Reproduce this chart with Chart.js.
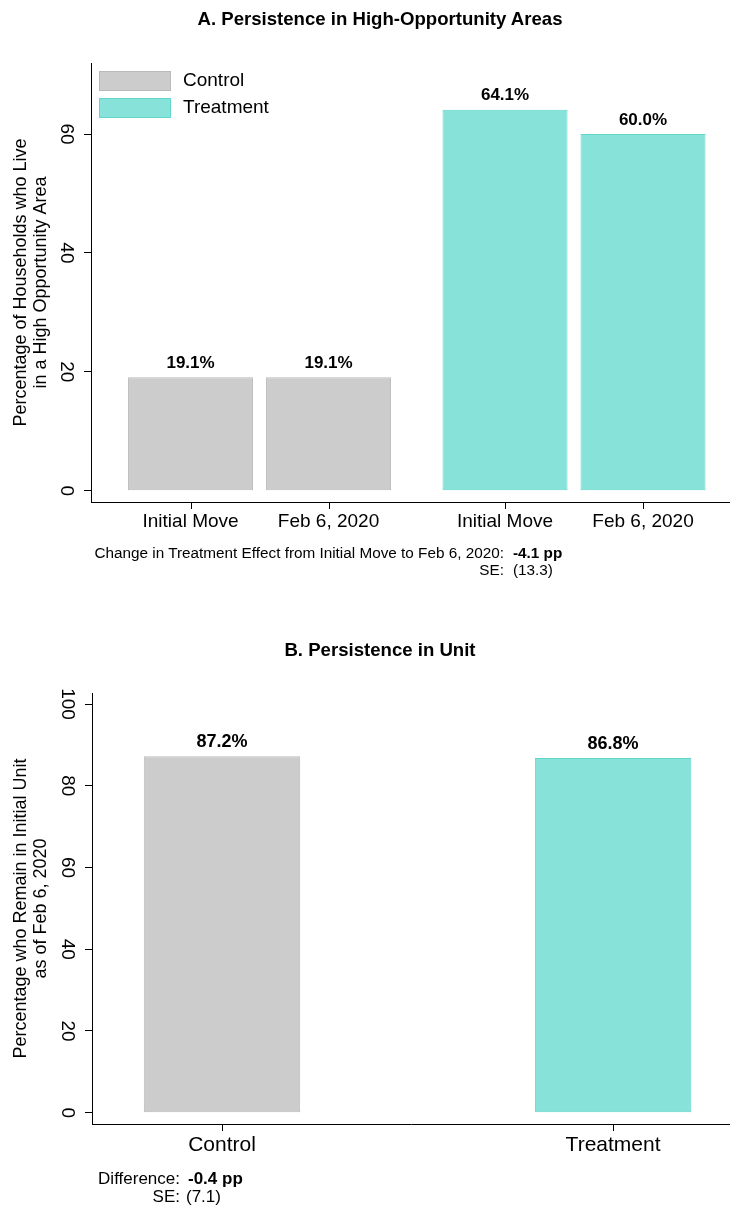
<!DOCTYPE html>
<html>
<head>
<meta charset="utf-8">
<script src="https://cdn.jsdelivr.net/npm/chart.js@4.4.1/dist/chart.umd.min.js"></script>
<style>
  html, body { margin: 0; padding: 0; background: #fff; }
  body { width: 730px; height: 1210px; position: relative; overflow: hidden;
         font-family: "Liberation Sans", Arial, Helvetica, sans-serif; color: #000; }
  .title { position: absolute; left: 80px; width: 600px; text-align: center;
           font-weight: bold; font-size: 18.6px; line-height: 20px; }
  .note { position: absolute; white-space: nowrap; }
  .noteA { font-size: 15.3px; line-height: 17px; }
  .noteB { font-size: 17px; line-height: 20px; }
  canvas { position: absolute; left: 0; }
</style>
</head>
<body>
<canvas id="chartA" width="730" height="600" style="top:0"></canvas>
<canvas id="chartB" width="730" height="610" style="top:600px"></canvas>

<div class="title" style="top:9px">A. Persistence in High-Opportunity Areas</div>
<div class="title" style="top:640px">B. Persistence in Unit</div>

<div class="note noteA" id="noteA1" style="top:544px; right:226px; text-align:right"></div>
<div class="note noteA" id="noteA2" style="top:544px; left:513px; font-weight:bold"></div>
<div class="note noteA" style="top:561px; right:226px; text-align:right">SE:</div>
<div class="note noteA" id="noteA3" style="top:561px; left:513px"></div>

<div class="note noteB" style="top:1169px; right:550px; text-align:right">Difference:</div>
<div class="note noteB" id="noteB1" style="top:1169px; left:188px; font-weight:bold"></div>
<div class="note noteB" style="top:1187px; right:550px; text-align:right">SE:</div>
<div class="note noteB" id="noteB2" style="top:1187px; left:186px"></div>

<script>
  // Panel A: share living in a high-opportunity area
  const groups = ["Control", "Treatment"];
  const periods = ["Initial Move", "Feb 6, 2020"];
  const initialMoveShare = [19.1, 64.1];
  const feb2020Share = [19.1, 60.0];
  const yTicksA = [0, 20, 40, 60];
  const effectChange = -4.1;
  const effectChangeSE = 13.3;

  // Panel B: share remaining in initial unit
  const unitGroups = ["Control", "Treatment"];
  const remainShare = [87.2, 86.8];
  const yTicksB = [0, 20, 40, 60, 80, 100];
  const unitDiff = -0.4;
  const unitDiffSE = 7.1;

  const FONT = '"Liberation Sans", Arial, Helvetica, sans-serif';
  const groupFill = ["#cccccc", "#87e3d9"];
  const groupBorder = ["#bababa", "#62d6c8"];

  Chart.defaults.font.family = FONT;
  Chart.defaults.color = "#000";

  document.getElementById("noteA1").textContent = "Change in Treatment Effect from Initial Move to Feb 6, 2020:";
  document.getElementById("noteA2").textContent = effectChange.toFixed(1) + " pp";
  document.getElementById("noteA3").textContent = "(" + effectChangeSE.toFixed(1) + ")";
  document.getElementById("noteB1").textContent = unitDiff.toFixed(1) + " pp";
  document.getElementById("noteB2").textContent = "(" + unitDiffSE.toFixed(1) + ")";

  // percent labels above each bar
  const valueLabels = {
    id: "valueLabels",
    afterDatasetsDraw(chart, args, opts) {
      const ctx = chart.ctx;
      ctx.save();
      ctx.font = "bold " + opts.size + "px " + FONT;
      ctx.fillStyle = "#000";
      ctx.textAlign = "center";
      ctx.textBaseline = "middle";
      chart.data.datasets.forEach((ds, i) => {
        chart.getDatasetMeta(i).data.forEach((bar, j) => {
          ctx.fillText(ds.data[j].y.toFixed(1) + "%", bar.x, bar.y - 14);
        });
      });
      ctx.restore();
    }
  };

  // tick marks and period names under each bar of panel A
  const periodTicks = {
    id: "periodTicks",
    afterDraw(chart) {
      const { ctx, chartArea } = chart;
      ctx.save();
      ctx.strokeStyle = "#000";
      ctx.lineWidth = 1;
      ctx.font = "19px " + FONT;
      ctx.fillStyle = "#000";
      ctx.textAlign = "center";
      ctx.textBaseline = "middle";
      chart.data.datasets.forEach((ds, i) => {
        chart.getDatasetMeta(i).data.forEach((bar) => {
          const x = Math.round(bar.x) + 0.5;
          ctx.beginPath();
          ctx.moveTo(x, chartArea.bottom);
          ctx.lineTo(x, chartArea.bottom + 7);
          ctx.stroke();
          ctx.fillText(periods[i], bar.x, chartArea.bottom + 20);
        });
      });
      ctx.restore();
    }
  };

  // legend drawn inside the plot, top left
  const insideLegend = {
    id: "insideLegend",
    afterDraw(chart) {
      const { ctx, chartArea } = chart;
      ctx.save();
      ctx.font = "19px " + FONT;
      ctx.textBaseline = "middle";
      ctx.lineWidth = 1;
      groups.forEach((g, i) => {
        const top = chartArea.top + 8 + i * 27;
        ctx.fillStyle = groupFill[i];
        ctx.fillRect(chartArea.left + 8, top, 72, 20);
        ctx.strokeStyle = groupBorder[i];
        ctx.strokeRect(chartArea.left + 8.5, top + 0.5, 71, 19);
        ctx.fillStyle = "#000";
        ctx.fillText(g, chartArea.left + 92, top + 10);
      });
      ctx.restore();
    }
  };

  function yAxis(ticks, min, max, titleLines, width, pad) {
    return {
      min: min,
      max: max,
      afterBuildTicks: (scale) => { scale.ticks = ticks.map((v) => ({ value: v })); },
      afterFit: (scale) => { scale.width = width; },
      grid: { display: true, drawOnChartArea: false, drawTicks: true, tickLength: 7, color: "#000", lineWidth: 1 },
      border: { display: true, color: "#000", width: 1 },
      ticks: { font: { size: 19 }, color: "#000", minRotation: -90, maxRotation: -90,
               crossAlign: "center", padding: pad, autoSkip: false },
      title: { display: true, text: titleLines, color: "#000",
               font: { size: 18, lineHeight: 1.1 }, padding: { top: 11, bottom: 0 } }
    };
  }

  new Chart(document.getElementById("chartA"), {
    type: "bar",
    data: {
      datasets: [initialMoveShare, feb2020Share].map((values, i) => ({
        label: periods[i],
        data: groups.map((g, j) => ({ x: j, y: values[j] })),
        backgroundColor: groupFill,
        borderColor: groupBorder,
        borderWidth: 1,
        borderSkipped: false,
        categoryPercentage: 0.8776,
        barPercentage: 0.906
      }))
    },
    options: {
      responsive: false,
      animation: false,
      layout: { padding: { top: 63, left: 0, right: 0, bottom: 0 } },
      plugins: {
        legend: { display: false },
        tooltip: { enabled: false },
        valueLabels: { size: 17 }
      },
      scales: {
        x: {
          type: "linear",
          min: -0.536,
          max: 1.496,
          offset: false,
          afterBuildTicks: (scale) => { scale.ticks = groups.map((g, i) => ({ value: i })); },
          afterFit: (scale) => { scale.height = 98; },
          grid: { display: false, offset: false },
          border: { display: true, color: "#000", width: 1 },
          ticks: { display: false }
        },
        y: yAxis(yTicksA, -1.9, 71.95,
                 ["Percentage of Households who Live", "in a High Opportunity Area"], 91, 7.4)
      }
    },
    plugins: [valueLabels, periodTicks, insideLegend]
  });

  new Chart(document.getElementById("chartB"), {
    type: "bar",
    data: {
      datasets: [{
        label: "Remain in unit",
        data: unitGroups.map((g, i) => ({ x: i, y: remainShare[i] })),
        backgroundColor: groupFill,
        borderColor: groupBorder,
        borderWidth: 1,
        borderSkipped: false,
        categoryPercentage: 1,
        barPercentage: 0.4
      }]
    },
    options: {
      responsive: false,
      animation: false,
      layout: { padding: { top: 93, left: 0, right: 0, bottom: 0 } },
      plugins: {
        legend: { display: false },
        tooltip: { enabled: false },
        valueLabels: { size: 18 }
      },
      scales: {
        x: {
          type: "linear",
          min: -0.3325,
          max: 1.299,
          offset: false,
          afterBuildTicks: (scale) => { scale.ticks = unitGroups.map((g, i) => ({ value: i })); },
          afterFit: (scale) => { scale.height = 86; },
          grid: { display: true, offset: false, drawOnChartArea: false, tickLength: 7, color: "#000", lineWidth: 1 },
          border: { display: true, color: "#000", width: 1 },
          ticks: { font: { size: 21 }, color: "#000", padding: 2, autoSkip: false, maxRotation: 0,
                   callback: (v) => unitGroups[v] }
        },
        y: yAxis(yTicksB, -2.77, 102.7,
                 ["Percentage who Remain in Initial Unit", "as of Feb 6, 2020"], 92, 2)
      }
    },
    plugins: [valueLabels]
  });
</script>
</body>
</html>
